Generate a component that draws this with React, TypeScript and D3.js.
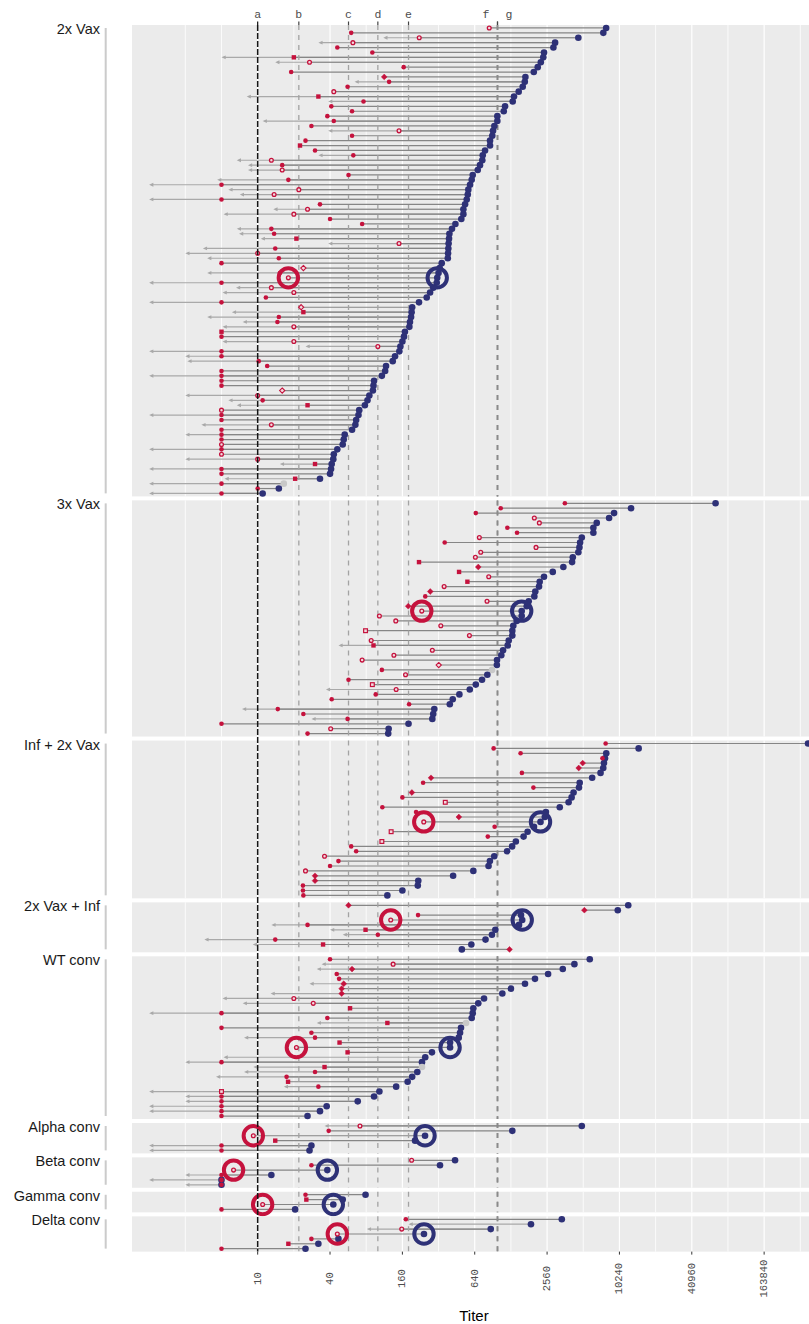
import React from "react";
import * as d3 from "d3";

// facets, top to bottom
const panelNames = [
  "2x Vax",
  "3x Vax",
  "Inf + 2x Vax",
  "2x Vax + Inf",
  "WT conv",
  "Alpha conv",
  "Beta conv",
  "Gamma conv",
  "Delta conv",
];

// labelled reference lines along the top
const refLabels = ["a", "b", "c", "d", "e", "f", "g"];
const refTiters = [10, 22, 57, 100, 180, 990, 990];

// x axis
const titerTicks = [10, 40, 160, 640, 2560, 10240, 40960, 163840];
const titerMinor = [2.5, 5, 20, 80, 320, 1280, 5120, 20480, 81920, 327680];

// marker codes for the pre value: c filled circle, o open circle, s filled square,
// q open square, d open diamond, D filled diamond

// ---- 2x Vax ----
const vax2Pre = [
  845, 60, 221, 62, 46, 90, 20, 27, 164, 19,
  113, 124, 56, 43, 32, 76, 41, 61, 38, 43,
  28, 150, 61, 25, 22.5, 30, 62.5, 13, 16, 16,
  57, 18, 5, 22, 13.7, 5, 33, 26, 20, 40,
  74, 13, 13.7, 21, 150, 14, 10, 15, 5, 24,
  15.3, 18, 5, 13, 20, 11.7, 5, 23, 24, 15,
  14.6, 20, 5, 5, 20, 100, 5, 5, 10.2, 12,
  5, 5, 5, 5, 16, 10, 11, 26, 5, 5,
  5, 13, 5, 5, 5, 5, 5, 5, 10, 30,
  5, 5, 20.5, 5, 10, 5,
];
const vax2Post = [
  7940, 7520, 4660, 2985, 2890, 2414, 2380, 2270, 2140, 1985,
  1690, 1670, 1605, 1486, 1358, 1325, 1144, 1116, 987, 987,
  932, 909, 896, 858, 858, 780, 746, 740, 708, 678,
  616, 604, 585, 566, 560, 549, 532, 515, 515, 495,
  442, 414, 394, 391, 388, 386, 384, 382, 340, 327,
  320, 312, 309, 289, 272, 255, 220, 193, 191, 189,
  185, 183, 168, 165, 160, 154, 151, 139, 133, 117,
  115, 108, 93, 92, 91, 85, 82, 78, 70, 69,
  66, 65, 61, 53, 52, 51, 46, 43, 42.6, 41.3,
  40.8, 40, 33, 16.5, 15, 11,
];
const vax2Arrow = [
  null, null, 111, 32, null, null, 5, 14, null, null,
  null, 64, null, null, 8.1, 38.6, null, null, null, 11,
  null, 38.6, null, null, null, null, 32, 6.7, 8.3, 8.3,
  null, 4.6, 1.25, 5.7, 7.1, 1.25, null, 13.5, 5.2, null,
  null, 6.7, 7, 10.6, 38.6, 3.5, 2.5, 3.8, null, null,
  3.8, null, 1.25, 6.6, 5.1, null, 1.25, null, 6.1, 3.8,
  7.5, 5.1, null, null, 5.1, 25, 1.25, 2.5, 2.6, null,
  null, 1.25, null, null, null, 2.5, 5.7, 6.7, null, 1.25,
  null, 3.4, null, 2.5, null, null, 1.25, null, 2.5, 15.3,
  1.25, null, 5.3, 1.25, null, 1.25,
];
const vax2Shape =
  "ocooccsocc" + "Dccosccccc" + "coccsccoco" + "cccooccooc" + "cccsococcd" +
  "cocooccdsc" + "coscoocccc" + "ccccdocsoc" + "cocccocoos" + "ccsccc";
const vax2Grey = [93];

// ---- 3x Vax ----
const vax3Pre = [
  3600, 1053, 653, 2005, 2207, 1195, 1439, 699, 360, 2071,
  718, 648, 220, 685, 474, 837, 556, 356, 273, 248,
  810, 179, 232, 103, 141, 334, 79, 578, 88, 92,
  284, 136, 74, 321, 108, 170, 57, 90, 142, 96,
  41.3, 182, 14.7, 24, 56, 5, 40.5, 26,
];
const vax3Post = [
  64600, 12790, 9240, 8400, 6630, 6215, 6215, 4980, 4818, 4757,
  4660, 4190, 4134, 3497, 2855, 2414, 2222, 2194, 2043, 2005,
  1800, 1733, 1574, 1574, 1430, 1340, 1315, 1315, 1228, 1204,
  1101, 1065, 981, 978, 892, 815, 736, 653, 582, 477,
  420, 397, 295, 289, 284, 180, 123, 122,
];
const vax3Arrow = [
  null, null, null, null, null, null, null, null, null, null,
  null, null, null, null, null, null, null, null, null, null,
  null, null, null, null, null, null, null, null, null, 47,
  null, null, null, null, null, null, null, null, 37, null,
  null, null, 7.4, null, 28, null, null, null,
];
const vax3Shape = "cccooccoco" + "oosDsosoDc" + "oDooooqoos" + "ooodcocqoc" + "ccccccoc";
const vax3Grey = [34];

// ---- Inf + 2x Vax ----
const infVaxPre = [
  7864, 919, 1541, 7400, 5064, 4692, 1580, 277, 238, 1970,
  192, 160, 364, 109, 208, 472, 241, 937, 129, 822,
  108, 60, 66, 36, 47, 40, 25, 30, 30, 23.8,
  23.8, 24,
];
const infVaxPost = [
  380000, 14800, 7957, 7762, 7614, 7511, 7132, 6072, 4782, 4718,
  4252, 4096, 3866, 3264, 2502, 2451, 2257, 1993, 1763, 1632,
  1407, 1310, 1190, 930, 856, 834, 623, 423, 217, 215,
  160, 120,
];
const infVaxArrow = infVaxPre.map(() => null);
const infVaxShape = "ccccDDcDcc" + "DcqccDocqc" + "qccoccoDDc" + "cc";
const infVaxGrey: number[] = [];

// ---- 2x Vax + Inf ----
const vaxInfPre = [57, 5230, 216, 128, 26, 79, 100, 14, 35, 1247];
const vaxInfPost = [12120, 9920, 1554, 1590, 1495, 950, 890, 787, 600, 500];
const vaxInfArrow = [null, null, null, null, 13, 40, 51, 3.6, 9.1, null];
const vaxInfShape = "DDcocsccsD";
const vaxInfGrey: number[] = [];

// ---- WT conv ----
const wtPre = [
  40, 134, 61, 45.5, 47.6, 52, 50, 50, 20, 29,
  58.7, 5, 38, 120, 5, 28, 30, 48, 21, 56,
  null, 5, 36, 30, 17.4, 17.9, 32, 5, 5, 5,
  5, 5, 5,
];
const wtPost = [
  5800, 4320, 3459, 2610, 2031, 1677, 1280, 1086, 765, 685,
  623, 616, 604, 542, 492, 483, 471, 399, 399, 282,
  248, 233, 233, 213, 193, 177, 142, 103, 93, 68,
  37.5, 33, 26,
];
const wtArrow = [
  null, 34, 31, null, null, 27, null, 12.8, 5.1, 7.5,
  null, 1.25, null, 31, null, null, 7.7, null, null, null,
  5.2, 2.5, 9.2, 7.7, 4.5, null, 16.5, 1.25, 2.5, 2.5,
  1.25, 1.25, null,
];
const wtShape = "coDccDDDoo" + "sccscccsos" + "ccsccscqcc" + "ccc";
const wtGrey = [13, 22];

// ---- variant convalescents ----
const alphaPre = [71, 39, 9.2, 14, 5, 5];
const alphaPost = [4980, 1315, 247, 204, 28, 27];
const alphaArrow = [36, null, null, null, 1.25, 1.25];
const alphaShape = "ocoscc";

const betaPre = [191, 28, 6.3, 5, 5, 5];
const betaPost = [439, 329, 38, 13, 5, 5];
const betaArrow = [null, null, null, 2.5, 1.25, 2.5];
const betaShape = "ococcc";

const gammaPre = [25, 25.4, 11, 5];
const gammaPost = [79, 51, 42.6, 20.5];
const gammaArrow = [null, null, null, null];
const gammaShape = "csoc";

const deltaPre = [171, null, 158, 46, 28, 18, 5];
const deltaPost = [3394, 1880, 870, 242, 47, 32, 25];
const deltaArrow = [null, 180, 81, null, null, null, null];
const deltaShape = "ccoocsc";

// row of the median ring in each facet
const ringRows = [51, 22, 16, 3, 18, 2, 2, 2, 3];

const RED = "#c5123d";
const PALE = "#f2d9de";
const NAVY = "#2e3177";
const GREY_PT = "#c8c8c8";
const SEG = "#868686";
const ARROW = "#a9a9a9";

const SANS = "'Liberation Sans', Arial, Helvetica, sans-serif";
const MONO = "'Liberation Mono', 'Courier New', monospace";

const ROW = 4.9;
const GAP = 4;
const TOP = 25;

type Panel = {
  name: string;
  pre: (number | null)[];
  post: number[];
  arrow: (number | null)[];
  shape: string;
  grey: number[];
  ring: number;
};

const panels: Panel[] = [
  { pre: vax2Pre, post: vax2Post, arrow: vax2Arrow, shape: vax2Shape, grey: vax2Grey },
  { pre: vax3Pre, post: vax3Post, arrow: vax3Arrow, shape: vax3Shape, grey: vax3Grey },
  { pre: infVaxPre, post: infVaxPost, arrow: infVaxArrow, shape: infVaxShape, grey: infVaxGrey },
  { pre: vaxInfPre, post: vaxInfPost, arrow: vaxInfArrow, shape: vaxInfShape, grey: vaxInfGrey },
  { pre: wtPre, post: wtPost, arrow: wtArrow, shape: wtShape, grey: wtGrey },
  { pre: alphaPre, post: alphaPost, arrow: alphaArrow, shape: alphaShape, grey: [] },
  { pre: betaPre, post: betaPost, arrow: betaArrow, shape: betaShape, grey: [] },
  { pre: gammaPre, post: gammaPost, arrow: gammaArrow, shape: gammaShape, grey: [] },
  { pre: deltaPre, post: deltaPost, arrow: deltaArrow, shape: deltaShape, grey: [] },
].map((p, i) => ({ ...p, name: panelNames[i], ring: ringRows[i] }));

const x = d3.scaleLog().base(2).domain([0.9, 387000]).range([132, 809]);

// stack the facets, height proportional to row count
let cursor = TOP;
const layout = panels.map((p) => {
  const n = p.post.length;
  const h = (n + 0.2) * ROW;
  const y = d3
    .scalePoint<number>()
    .domain(d3.range(n))
    .range([cursor, cursor + h])
    .padding(0.6);
  const top = cursor;
  cursor += h + GAP;
  return { ...p, top, bottom: top + h, y };
});
const plotBottom = layout[layout.length - 1].bottom;

function PreMark({ s, cx, cy }: { s: string; cx: number; cy: number }) {
  if (s === "o")
    return <circle cx={cx} cy={cy} r={1.9} fill={PALE} stroke={RED} strokeWidth={1.3} />;
  if (s === "s")
    return <rect x={cx - 2.2} y={cy - 2.2} width={4.4} height={4.4} fill={RED} />;
  if (s === "q")
    return (
      <rect x={cx - 1.9} y={cy - 1.9} width={3.8} height={3.8} fill={PALE} stroke={RED} strokeWidth={1.2} />
    );
  if (s === "d" || s === "D") {
    const r = s === "d" ? 2.6 : 2.9;
    return (
      <path
        d={`M${cx},${cy - r}L${cx + r},${cy}L${cx},${cy + r}L${cx - r},${cy}Z`}
        fill={s === "d" ? PALE : RED}
        stroke={RED}
        strokeWidth={s === "d" ? 1.1 : 0.5}
      />
    );
  }
  return <circle cx={cx} cy={cy} r={2.3} fill={RED} />;
}

export default function App() {
  const [x0, x1] = x.range();
  return (
    <svg
      width={809}
      height={1324}
      style={{ position: "absolute", left: 0, top: 0, background: "#fff" }}
    >
      {/* top labels for the reference lines */}
      {refLabels.map((lab, i) => {
        const dup = refTiters.filter((t) => t === refTiters[i]).length > 1;
        const first = refTiters.indexOf(refTiters[i]) === i;
        const shift = dup ? (first ? -11.5 : 11.5) : 0;
        return (
          <g key={lab}>
            <text
              x={x(refTiters[i]) + shift}
              y={18}
              textAnchor="middle"
              fontFamily={MONO}
              fontSize={11.5}
              fill="#4d4d4d"
            >
              {lab}
            </text>
            <line
              x1={x(refTiters[i])}
              x2={x(refTiters[i])}
              y1={21.5}
              y2={TOP}
              stroke={i === 0 ? "#111" : "#444"}
              strokeWidth={1.2}
            />
          </g>
        );
      })}

      {layout.map((p) => {
        const ringY = p.y(p.ring)!;
        return (
          <g key={p.name}>
            <rect x={x0} y={p.top} width={x1 - x0} height={p.bottom - p.top} fill="#ebebeb" />
            {titerMinor.map((t) => (
              <line key={"m" + t} x1={x(t)} x2={x(t)} y1={p.top} y2={p.bottom} stroke="#fff" strokeWidth={0.8} />
            ))}
            {titerTicks.map((t) => (
              <line key={"M" + t} x1={x(t)} x2={x(t)} y1={p.top} y2={p.bottom} stroke="#fff" strokeWidth={1.2} />
            ))}

            {/* strip label on the left */}
            <text
              x={100}
              y={p.top + 9}
              textAnchor="end"
              fontFamily={SANS}
              fontSize={14.5}
              fill="#1a1a1a"
            >
              {p.name}
            </text>
            <rect x={104.7} y={p.top + 3} width={2} height={p.bottom - p.top - 6} fill="#cbcbcb" />

            {/* arrows for the lower bound */}
            {p.post.map((v, i) => {
              const a = p.arrow[i];
              if (a == null) return null;
              const yy = p.y(i)!;
              const xa = x(a);
              return (
                <g key={"a" + i}>
                  <line x1={xa + 2} x2={x(v)} y1={yy} y2={yy} stroke={ARROW} strokeWidth={1.2} />
                  <path d={`M${xa},${yy}L${xa + 4.2},${yy - 1.9}L${xa + 4.2},${yy + 1.9}Z`} fill={ARROW} />
                </g>
              );
            })}

            {/* pre -> post segments */}
            {p.post.map((v, i) => {
              const pre = p.pre[i];
              if (pre == null) return null;
              const yy = p.y(i)!;
              return <line key={"s" + i} x1={x(pre)} x2={x(v)} y1={yy} y2={yy} stroke={SEG} strokeWidth={1.2} />;
            })}

            {/* reference lines */}
            {refTiters.slice(1).map((t, i) => (
              <line
                key={"r" + i}
                x1={x(t)}
                x2={x(t)}
                y1={p.top}
                y2={p.bottom}
                stroke={t > 500 ? "#8a8a8a" : "#a3a3a3"}
                strokeWidth={t > 500 ? 1.6 : 1.3}
                strokeDasharray="5,5"
              />
            ))}

            {/* post values */}
            {p.post.map((v, i) => (
              <circle
                key={"b" + i}
                cx={x(v)}
                cy={p.y(i)!}
                r={3.3}
                fill={p.grey.includes(i) ? GREY_PT : NAVY}
              />
            ))}

            {/* pre values */}
            {p.pre.map((v, i) =>
              v == null ? null : <PreMark key={"p" + i} s={p.shape[i]} cx={x(v)} cy={p.y(i)!} />
            )}

            {/* median rings */}
            <circle cx={x(p.pre[p.ring] as number)} cy={ringY} r={9.7} fill="none" stroke={RED} strokeWidth={4} />
            <circle cx={x(p.post[p.ring])} cy={ringY} r={9.7} fill="none" stroke={NAVY} strokeWidth={4} />
          </g>
        );
      })}

      {/* detection limit, through all facets */}
      <line
        x1={x(refTiters[0])}
        x2={x(refTiters[0])}
        y1={TOP}
        y2={plotBottom}
        stroke="#151515"
        strokeWidth={1.5}
        strokeDasharray="6,2"
      />

      {/* bottom axis */}
      {titerTicks.map((t) => (
        <g key={"t" + t}>
          <line x1={x(t)} x2={x(t)} y1={plotBottom} y2={plotBottom + 3} stroke="#333" strokeWidth={1} />
          <text
            transform={`translate(${x(t)},${plotBottom + 27}) rotate(-90)`}
            textAnchor="middle"
            dominantBaseline="central"
            fontFamily={MONO}
            fontSize={10.5}
            fill="#4d4d4d"
          >
            {t}
          </text>
        </g>
      ))}
      <text x={474} y={1321} textAnchor="middle" fontFamily={SANS} fontSize={15} fill="#000">
        Titer
      </text>
    </svg>
  );
}
